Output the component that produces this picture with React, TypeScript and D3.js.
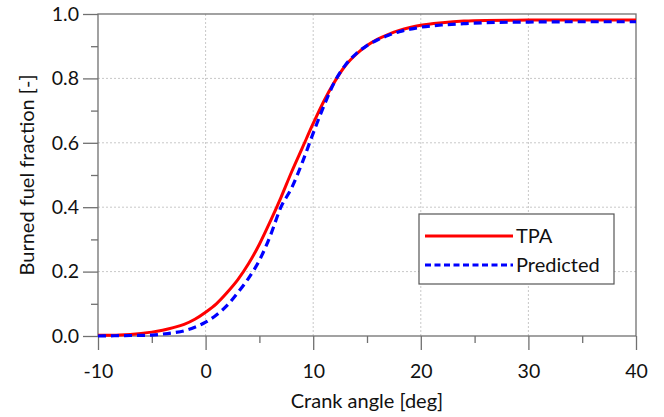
import * as d3 from "d3";
import { useEffect, useRef } from "react";

// crank angle [deg]
const angles = [-10, -9, -8, -7, -6, -5, -4, -3, -2, -1, 0, 1, 2, 3, 4, 5, 6, 7, 8, 9, 10, 11, 12, 13, 14, 15, 16, 17, 18, 19, 20, 22, 24, 26, 30, 35, 40];
const tpa = [0.002, 0.002, 0.003, 0.005, 0.008, 0.012, 0.018, 0.026, 0.036, 0.052, 0.074, 0.1, 0.135, 0.175, 0.225, 0.285, 0.355, 0.43, 0.51, 0.585, 0.66, 0.73, 0.79, 0.84, 0.875, 0.902, 0.922, 0.937, 0.949, 0.958, 0.965, 0.973, 0.978, 0.98, 0.981, 0.981, 0.981];
const predicted = [0.0, 0.0005, 0.001, 0.0015, 0.002, 0.003, 0.006, 0.01, 0.016, 0.027, 0.043, 0.065, 0.095, 0.135, 0.18, 0.235, 0.31, 0.4, 0.46, 0.54, 0.63, 0.715, 0.79, 0.842, 0.877, 0.902, 0.92, 0.934, 0.945, 0.953, 0.959, 0.966, 0.97, 0.973, 0.975, 0.976, 0.976];

const xTicks = [-10, 0, 10, 20, 30, 40];
const xMinor = [-5, 5, 15, 25, 35];
const yTicks = [0, 0.2, 0.4, 0.6, 0.8, 1.0];
const yMinor = [0.1, 0.3, 0.5, 0.7, 0.9];

const seriesNames = ["TPA", "Predicted"];

export default function App() {
  const svgRef = useRef<SVGSVGElement>(null);

  const W = 664;
  const H = 417;
  const margin = { top: 14, right: 28, bottom: 81, left: 98 };

  useEffect(() => {
    const svg = d3.select(svgRef.current);
    svg.selectAll("*").remove();

    const x = d3.scaleLinear().domain([-10, 40]).range([margin.left, W - margin.right]);
    const y = d3.scaleLinear().domain([0, 1]).range([H - margin.bottom, margin.top]);
    const font = "Lato, 'Open Sans', sans-serif";
    const axisColor = "#707070";
    const textColor = "#111";

    // grid
    svg.append("g")
      .selectAll("line")
      .data(yTicks.slice(1, -1))
      .enter()
      .append("line")
      .attr("x1", x(-10)).attr("x2", x(40))
      .attr("y1", d => y(d)).attr("y2", d => y(d))
      .attr("stroke", "#c8c8c8").attr("stroke-dasharray", "2,2");
    svg.append("g")
      .selectAll("line")
      .data(xTicks.slice(1, -1))
      .enter()
      .append("line")
      .attr("y1", y(0)).attr("y2", y(1))
      .attr("x1", d => x(d)).attr("x2", d => x(d))
      .attr("stroke", "#c8c8c8").attr("stroke-dasharray", "2,2");

    // frame
    svg.append("rect")
      .attr("x", x(-10)).attr("y", y(1))
      .attr("width", x(40) - x(-10)).attr("height", y(0) - y(1))
      .attr("fill", "none").attr("stroke", axisColor).attr("stroke-width", 1.3);

    // axes
    const gx = svg.append("g")
      .attr("transform", `translate(0,${y(0)})`)
      .call(d3.axisBottom(x).tickValues(xTicks).tickSize(14).tickPadding(14).tickFormat(d => String(d)));
    gx.select(".domain").remove();
    gx.selectAll("line").attr("stroke", axisColor).attr("stroke-width", 1.3);
    gx.selectAll("text").attr("font-family", font).attr("font-size", 19.5).attr("fill", textColor);
    svg.append("g")
      .attr("transform", `translate(0,${y(0)})`)
      .call(d3.axisBottom(x).tickValues(xMinor).tickSize(7).tickFormat(() => ""))
      .call(g => g.select(".domain").remove())
      .selectAll("line").attr("stroke", axisColor).attr("stroke-width", 1.3);

    const gy = svg.append("g")
      .attr("transform", `translate(${x(-10)},0)`)
      .call(d3.axisLeft(y).tickValues(yTicks).tickSize(15).tickPadding(4).tickFormat(d3.format(".1f")));
    gy.select(".domain").remove();
    gy.selectAll("line").attr("stroke", axisColor).attr("stroke-width", 1.3);
    gy.selectAll("text").attr("font-family", font).attr("font-size", 19.5).attr("fill", textColor);
    svg.append("g")
      .attr("transform", `translate(${x(-10)},0)`)
      .call(d3.axisLeft(y).tickValues(yMinor).tickSize(7).tickFormat(() => ""))
      .call(g => g.select(".domain").remove())
      .selectAll("line").attr("stroke", axisColor).attr("stroke-width", 1.3);

    // axis titles
    svg.append("text")
      .attr("x", 367).attr("y", 408)
      .attr("text-anchor", "middle")
      .attr("font-family", font).attr("font-size", 20).attr("fill", textColor)
      .text("Crank angle [deg]");
    svg.append("text")
      .attr("transform", `translate(34,175) rotate(-90)`)
      .attr("text-anchor", "middle")
      .attr("font-family", font).attr("font-size", 20).attr("fill", textColor)
      .text("Burned fuel fraction [-]");

    // curves
    const line = d3.line<number>()
      .x((_, i) => x(angles[i]))
      .y(d => y(d))
      .curve(d3.curveMonotoneX);

    svg.append("path")
      .attr("d", line(tpa))
      .attr("fill", "none").attr("stroke", "#ff0000").attr("stroke-width", 3);
    svg.append("path")
      .attr("d", line(predicted))
      .attr("fill", "none").attr("stroke", "#0000ff").attr("stroke-width", 3.2)
      .attr("stroke-dasharray", "8,5");

    // legend
    const legend = svg.append("g").attr("transform", "translate(419,214)");
    legend.append("rect")
      .attr("width", 195).attr("height", 70)
      .attr("fill", "white").attr("stroke", "#555").attr("stroke-width", 1.2);
    const styles = [
      { color: "#ff0000", dash: null },
      { color: "#0000ff", dash: "6,3.5" },
    ];
    seriesNames.forEach((name, i) => {
      legend.append("line")
        .attr("x1", 6).attr("x2", 94)
        .attr("y1", 22 + i * 29).attr("y2", 22 + i * 29)
        .attr("stroke", styles[i].color).attr("stroke-width", 3)
        .attr("stroke-dasharray", styles[i].dash);
      legend.append("text")
        .attr("x", 97).attr("y", 22 + i * 29)
        .attr("dy", "0.35em")
        .attr("font-family", font).attr("font-size", 20).attr("fill", textColor)
        .text(name);
    });
  }, []);

  return (
    <svg
      ref={svgRef}
      width={W}
      height={H}
      style={{ position: "absolute", left: 0, top: 0, background: "white" }}
    ></svg>
  );
}
